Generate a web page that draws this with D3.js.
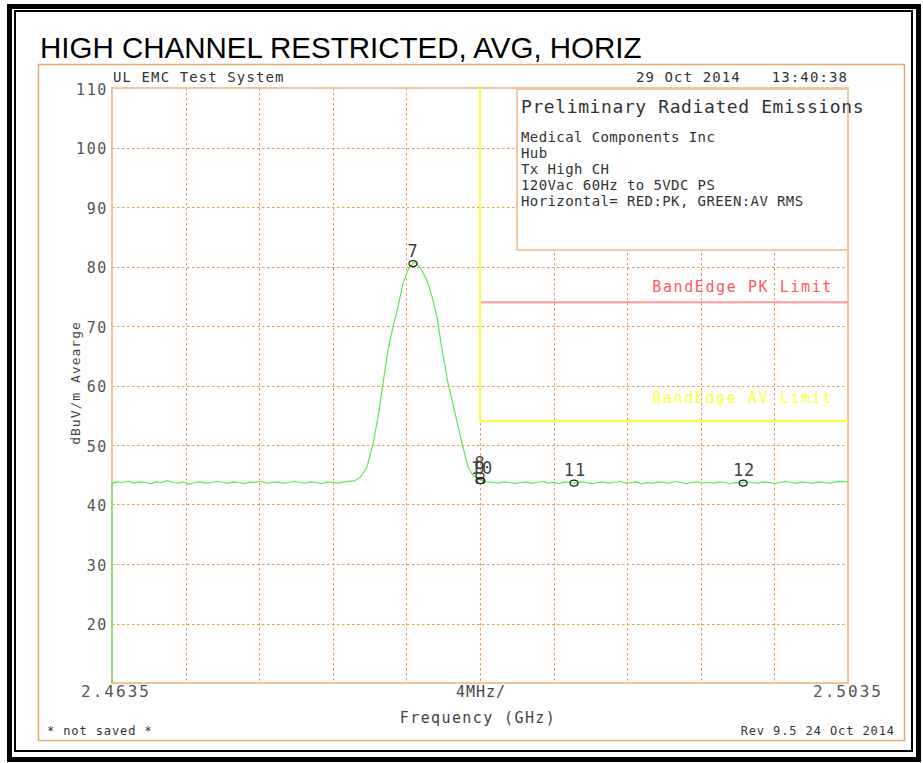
<!DOCTYPE html>
<html lang="en">
  <head>
    <meta charset="UTF-8" />
    <title>High Channel Restricted, AVG, Horiz</title>
    <script src="https://d3js.org/d3.v7.min.js"></script>
    <style>
      body { margin: 0; background: #fff; }
      .hp { font-family: "DejaVu Sans Mono", monospace; fill: #333; }
    </style>
  </head>
  <body>
    <script>
      // Sweep data: [frequency GHz, level dBuV/m]
      const traceLeft = [
        [2.4635, 10.0], [2.4635, 43.6], [2.4638, 43.8], [2.4641, 43.7], [2.4644, 43.9], [2.4647, 43.6],
        [2.4650, 43.8], [2.4653, 43.7], [2.4656, 43.5], [2.4659, 43.8], [2.4662, 43.7], [2.4665, 44.0],
        [2.4668, 43.7], [2.4671, 43.6], [2.4674, 43.8], [2.4677, 43.4], [2.4680, 43.7], [2.4683, 43.8],
        [2.4686, 43.6], [2.4689, 43.7], [2.4692, 43.9], [2.4695, 43.7], [2.4698, 43.6], [2.4701, 43.8],
        [2.4704, 43.7], [2.4707, 43.5], [2.4710, 43.8], [2.4713, 43.7], [2.4716, 43.9], [2.4719, 43.6],
        [2.4722, 43.7], [2.4725, 43.8], [2.4728, 43.6], [2.4731, 43.7], [2.4734, 43.9], [2.4737, 43.7],
        [2.4740, 43.6], [2.4743, 43.8], [2.4746, 43.7], [2.4749, 43.5], [2.4752, 43.8], [2.4755, 43.7],
        [2.4758, 43.6], [2.4761, 43.8], [2.4764, 43.9], [2.4767, 44.0]
      ];
      const tracePeak = [
        [2.4770, 44.6], [2.47736, 46.3], [2.47769, 50.3], [2.47796, 54.7], [2.47823, 60.4],
        [2.47850, 66.0], [2.47877, 69.8], [2.47904, 73.2], [2.47932, 77.2], [2.47959, 79.4],
        [2.47986, 80.6], [2.48000, 80.7], [2.48024, 79.9], [2.48046, 78.6], [2.48068, 77.2],
        [2.48092, 74.6], [2.48116, 71.5], [2.48144, 66.0], [2.48176, 60.4], [2.48214, 55.4],
        [2.48252, 50.3], [2.48285, 46.3], [2.48310, 45.0], [2.48335, 44.4], [2.48360, 44.0]
      ];
      const traceRight = [
        [2.4839, 43.8], [2.4842, 43.7], [2.4845, 43.6], [2.4848, 43.8], [2.4851, 43.7], [2.4854, 43.5],
        [2.4857, 43.7], [2.4860, 43.8], [2.4863, 43.6], [2.4866, 43.7], [2.4869, 43.9], [2.4872, 43.6],
        [2.4875, 43.7], [2.4878, 43.5], [2.4881, 43.8], [2.4884, 43.7], [2.4887, 43.6], [2.4890, 43.8],
        [2.4893, 43.7], [2.4896, 43.5], [2.4899, 43.7], [2.4902, 43.8], [2.4905, 43.6], [2.4908, 43.7],
        [2.4911, 43.9], [2.4914, 43.6], [2.4917, 43.7], [2.4920, 43.8], [2.4923, 43.5], [2.4926, 43.7],
        [2.4929, 43.6], [2.4932, 43.8], [2.4935, 43.7], [2.4938, 43.6], [2.4941, 43.9], [2.4944, 43.7],
        [2.4947, 43.5], [2.4950, 43.7], [2.4953, 43.8], [2.4956, 43.6], [2.4959, 43.7], [2.4962, 43.6],
        [2.4965, 43.8], [2.4968, 43.7], [2.4971, 43.5], [2.4974, 43.7], [2.4977, 43.6], [2.4980, 43.8],
        [2.4983, 43.7], [2.4986, 43.6], [2.4989, 43.8], [2.4992, 43.7], [2.4995, 43.5], [2.4998, 43.7],
        [2.5001, 43.9], [2.5004, 43.7], [2.5007, 43.6], [2.5010, 43.8], [2.5013, 43.7], [2.5016, 43.6],
        [2.5019, 43.8], [2.5022, 43.7], [2.5025, 43.6], [2.5028, 43.8], [2.5031, 43.9], [2.5035, 43.8]
      ];

      // Markers
      const markerIds = ["7", "8", "9", "10", "11", "12"];
      const markerFreq = [2.47986, 2.4835, 2.4835, 2.48355, 2.48861, 2.4978];
      const markerLevel = [80.5, 44.8, 44.0, 44.0, 43.6, 43.6];

      // Limits
      const bandEdge = 2.4835;
      const pkLimit = 74;
      const avLimit = 54;

      // Axis
      const freqStart = 2.4635;
      const freqStop = 2.5035;
      const yTicks = [110, 100, 90, 80, 70, 60, 50, 40, 30, 20];
      const legendLines = [
        "Medical Components Inc",
        "Hub",
        "Tx High CH",
        "120Vac 60Hz to 5VDC PS",
        "Horizontal= RED:PK, GREEN:AV RMS"
      ];

      const width = 923, height = 763;
      const svg = d3.select("body").append("svg")
        .attr("width", width).attr("height", height);

      const x = d3.scaleLinear().domain([freqStart, freqStop]).range([112, 848]);
      const y = d3.scaleLinear().domain([10, 110]).range([683, 88]);

      // page borders
      svg.append("rect").attr("x", 9.5).attr("y", 6.5).attr("width", 909).attr("height", 753)
        .attr("fill", "none").attr("stroke", "#000").attr("stroke-width", 5);
      svg.append("rect").attr("x", 15).attr("y", 11).attr("width", 897).attr("height", 740)
        .attr("fill", "none").attr("stroke", "#000").attr("stroke-width", 2);

      svg.append("text").attr("x", 40).attr("y", 58)
        .style("font-family", "'Liberation Sans', Arial, sans-serif")
        .style("font-size", "29.5px").attr("fill", "#000")
        .text("HIGH CHANNEL RESTRICTED, AVG, HORIZ");

      // orange outer frame
      svg.append("rect").attr("x", 38.5).attr("y", 64.5).attr("width", 866).attr("height", 676)
        .attr("fill", "none").attr("stroke", "#eba868").attr("stroke-width", 1.5);

      // grid
      const grid = svg.append("g").attr("stroke", "#e89a55").attr("stroke-width", 1)
        .attr("stroke-dasharray", "2.5,2.5");
      const xGrid = d3.range(1, 10).map(i => freqStart + i * (freqStop - freqStart) / 10);
      grid.selectAll("line.v").data(xGrid).join("line")
        .attr("x1", d => Math.round(x(d)) + 0.5).attr("x2", d => Math.round(x(d)) + 0.5)
        .attr("y1", y(110)).attr("y2", y(10));
      grid.selectAll("line.h").data(yTicks.slice(1)).join("line")
        .attr("x1", x(freqStart)).attr("x2", x(freqStop))
        .attr("y1", d => Math.round(y(d)) + 0.5).attr("y2", d => Math.round(y(d)) + 0.5);

      // legend box (covers grid)
      svg.append("rect").attr("x", 517).attr("y", 89).attr("width", 331).attr("height", 161)
        .attr("fill", "#fff").attr("stroke", "#f0b888").attr("stroke-width", 1.5);

      // plot border
      svg.append("rect").attr("x", x(freqStart)).attr("y", y(110))
        .attr("width", x(freqStop) - x(freqStart)).attr("height", y(10) - y(110))
        .attr("fill", "none").attr("stroke", "#f2c49a").attr("stroke-width", 2);

      // limit lines
      svg.append("line").attr("x1", x(bandEdge)).attr("x2", x(freqStop))
        .attr("y1", y(pkLimit)).attr("y2", y(pkLimit))
        .attr("stroke", "#ff9a9a").attr("stroke-width", 2);
      svg.append("path")
        .attr("d", `M${x(bandEdge)},${y(110)}V${y(avLimit)}H${x(freqStop)}`)
        .attr("fill", "none").attr("stroke", "#ffff30").attr("stroke-width", 2);

      svg.append("text").attr("class", "hp").attr("x", 833).attr("y", y(pkLimit) - 10)
        .attr("text-anchor", "end").style("font-size", "15px").style("letter-spacing", "1.6px")
        .style("fill", "#ff5a5a").text("BandEdge PK Limit");
      svg.append("text").attr("class", "hp").attr("x", 833).attr("y", y(avLimit) - 18)
        .attr("text-anchor", "end").style("font-size", "15px").style("letter-spacing", "1.6px")
        .style("fill", "#ffff40").text("BandEdge AV Limit");

      // trace
      const trace = traceLeft.concat(tracePeak, traceRight);
      svg.append("path").datum(trace)
        .attr("d", d3.line().x(d => x(d[0])).y(d => y(d[1])))
        .attr("fill", "none").attr("stroke", "#5ce85c").attr("stroke-width", 1.2);

      // markers (8, 9 and 10 sit on top of each other, as in the plot)
      const markers = markerIds.map((id, i) => ({ id, f: markerFreq[i], v: markerLevel[i] }));
      const mg = svg.append("g");
      mg.selectAll("ellipse").data(markers).join("ellipse")
        .attr("cx", d => x(d.f)).attr("cy", d => y(d.v)).attr("rx", 4).attr("ry", 3)
        .attr("fill", "none").attr("stroke", "#222").attr("stroke-width", 1.2);
      mg.selectAll("text").data(markers).join("text").attr("class", "hp")
        .attr("x", d => x(d.f) + (d.id.length > 1 ? 1 : 0)).attr("y", d => y(d.v) - 7)
        .attr("text-anchor", "middle").style("font-size", "17px").style("letter-spacing", "1px")
        .style("fill", "#444").text(d => d.id);

      // y tick labels
      svg.append("g").selectAll("text").data(yTicks).join("text").attr("class", "hp")
        .attr("x", 108).attr("y", d => y(d) + 6.5).attr("text-anchor", "end")
        .style("font-size", "15px").style("letter-spacing", "1.6px").style("fill", "#555")
        .text(d => d);

      svg.append("text").attr("class", "hp")
        .attr("transform", "translate(80,383) rotate(-90)").attr("text-anchor", "middle")
        .style("font-size", "13px").style("letter-spacing", "1px").style("fill", "#444")
        .text("dBuV/m Avearge");

      // x labels
      svg.append("text").attr("class", "hp").attr("x", x(freqStart) + 4).attr("y", 697)
        .attr("text-anchor", "middle").style("font-size", "16px").style("letter-spacing", "2px")
        .style("fill", "#555").text(freqStart.toFixed(4));
      svg.append("text").attr("class", "hp").attr("x", x(freqStop)).attr("y", 697)
        .attr("text-anchor", "middle").style("font-size", "16px").style("letter-spacing", "2px")
        .style("fill", "#555").text(freqStop.toFixed(4));
      svg.append("text").attr("class", "hp").attr("x", 481).attr("y", 697)
        .attr("text-anchor", "middle").style("font-size", "15px").style("letter-spacing", "1px")
        .style("fill", "#444").text("4MHz/");
      svg.append("text").attr("class", "hp").attr("x", 478).attr("y", 723)
        .attr("text-anchor", "middle").style("font-size", "15px").style("letter-spacing", "1.4px")
        .style("fill", "#444").text("Frequency (GHz)");

      // header & footer
      svg.append("text").attr("class", "hp").attr("x", 113).attr("y", 82)
        .style("font-size", "14px").style("letter-spacing", "1.1px").text("UL EMC Test System");
      svg.append("text").attr("class", "hp").attr("x", 636).attr("y", 82)
        .style("font-size", "14px").style("letter-spacing", "1.1px").text("29 Oct 2014");
      svg.append("text").attr("class", "hp").attr("x", 848).attr("y", 82).attr("text-anchor", "end")
        .style("font-size", "14px").style("letter-spacing", "1.1px").text("13:40:38");
      svg.append("text").attr("class", "hp").attr("x", 47).attr("y", 735)
        .style("font-size", "12px").style("letter-spacing", "0.9px").text("* not saved *");
      svg.append("text").attr("class", "hp").attr("x", 895).attr("y", 735).attr("text-anchor", "end")
        .style("font-size", "12px").style("letter-spacing", "0.9px").text("Rev 9.5 24 Oct 2014");

      // legend text
      svg.append("text").attr("class", "hp").attr("x", 521).attr("y", 113)
        .style("font-size", "18px").style("letter-spacing", "0.6px").text("Preliminary Radiated Emissions");
      svg.append("g").selectAll("text").data(legendLines).join("text").attr("class", "hp")
        .attr("x", 521).attr("y", (d, i) => 141.5 + i * 16)
        .style("font-size", "14px").style("letter-spacing", "0.4px").text(d => d);
    </script>
  </body>
</html>
